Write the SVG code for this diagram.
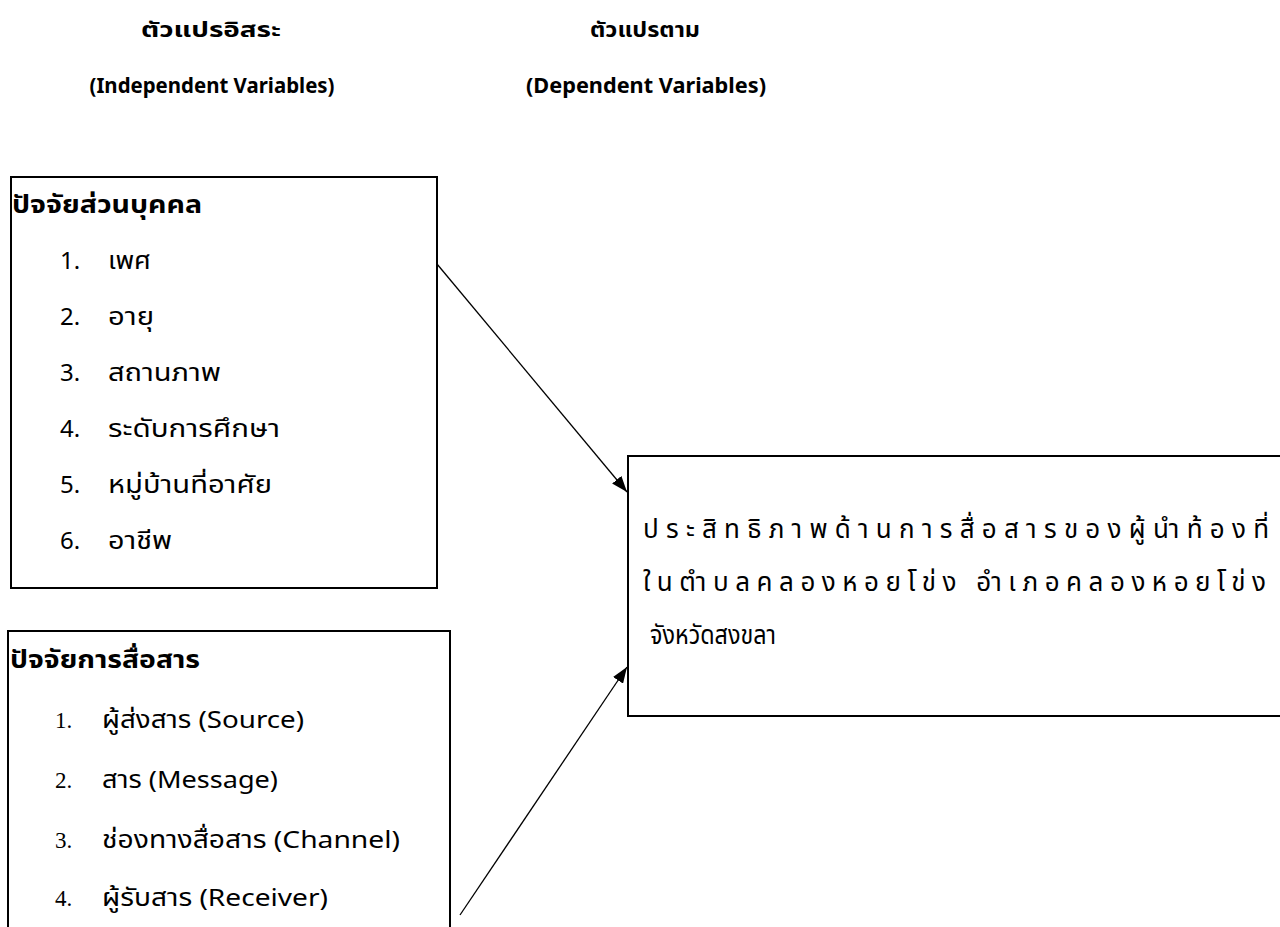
<svg xmlns="http://www.w3.org/2000/svg" width="1280" height="927" viewBox="0 0 1280 927">
<style>
text{font-family:"Noto Sans","Noto Sans Thai","DejaVu Sans",sans-serif;fill:#000}
.h{font-size:21px;font-weight:bold;text-anchor:middle}
.t{font-size:24px;font-weight:bold}
.i{font-size:24px}
.n{font-size:23px;font-family:"Liberation Serif",serif}
.d{font-size:26px}
.box{fill:#fff;stroke:#000;stroke-width:2}
.c{stroke:#000;stroke-width:1.3;fill:none}
</style>
<defs>
<marker id="ah" viewBox="0 0 16 12" refX="16" refY="6" markerWidth="16" markerHeight="12" markerUnits="userSpaceOnUse" orient="auto">
<path d="M0,0 L16,6 L0,12 z" fill="#000"/>
</marker>
</defs>
<rect width="1280" height="927" fill="#fff"/>
<g id="headers">
<text class="h" x="211" y="37" textLength="140" lengthAdjust="spacingAndGlyphs">ตัวแปรอิสระ</text>
<text class="h" x="212" y="93" textLength="245" lengthAdjust="spacingAndGlyphs">(Independent Variables)</text>
<text class="h" x="645" y="37" textLength="110" lengthAdjust="spacingAndGlyphs">ตัวแปรตาม</text>
<text class="h" x="646" y="93" textLength="240" lengthAdjust="spacingAndGlyphs">(Dependent Variables)</text>
</g>
<g id="personal">
<rect class="box" x="11" y="177" width="426" height="411"/>
<text class="t" x="12" y="213" textLength="190" lengthAdjust="spacingAndGlyphs">ปัจจัยส่วนบุคคล</text>
<text class="i" x="60" y="269">1.</text><text class="i" x="108" y="269" textLength="43" lengthAdjust="spacingAndGlyphs">เพศ</text>
<text class="i" x="60" y="325">2.</text><text class="i" x="108" y="325" textLength="46" lengthAdjust="spacingAndGlyphs">อายุ</text>
<text class="i" x="60" y="381">3.</text><text class="i" x="108" y="381" textLength="113" lengthAdjust="spacingAndGlyphs">สถานภาพ</text>
<text class="i" x="60" y="437">4.</text><text class="i" x="108" y="437" textLength="172" lengthAdjust="spacingAndGlyphs">ระดับการศึกษา</text>
<text class="i" x="60" y="493">5.</text><text class="i" x="108" y="493" textLength="164" lengthAdjust="spacingAndGlyphs">หมู่บ้านที่อาศัย</text>
<text class="i" x="60" y="549">6.</text><text class="i" x="108" y="549" textLength="64" lengthAdjust="spacingAndGlyphs">อาชีพ</text>
</g>
<g id="communication">
<rect class="box" x="8" y="631" width="442" height="320"/>
<text class="t" x="10" y="668" textLength="190" lengthAdjust="spacingAndGlyphs">ปัจจัยการสื่อสาร</text>
<text class="n" x="55" y="728">1.</text><text class="i" x="102" y="728" textLength="202" lengthAdjust="spacingAndGlyphs">ผู้ส่งสาร (Source)</text>
<text class="n" x="55" y="788">2.</text><text class="i" x="102" y="788" textLength="176" lengthAdjust="spacingAndGlyphs">สาร (Message)</text>
<text class="n" x="55" y="848">3.</text><text class="i" x="102" y="848" textLength="298" lengthAdjust="spacingAndGlyphs">ช่องทางสื่อสาร (Channel)</text>
<text class="n" x="55" y="906">4.</text><text class="i" x="102" y="906" textLength="226" lengthAdjust="spacingAndGlyphs">ผู้รับสาร (Receiver)</text>
</g>
<g id="effectiveness">
<rect class="box" x="628" y="456" width="670" height="260"/>
<text class="d" x="643" y="538" textLength="626" lengthAdjust="spacing">ประสิทธิภาพด้านการสื่อสารของผู้นำท้องที่</text>
<text class="d" x="643" y="591" textLength="623" lengthAdjust="spacing">ในตำบลคลองหอยโข่ง อำเภอคลองหอยโข่ง</text>
<text class="d" x="650" y="644" textLength="126" lengthAdjust="spacingAndGlyphs">จังหวัดสงขลา</text>
</g>
<g id="connectors">
<line class="c" x1="437" y1="264" x2="627" y2="492" marker-end="url(#ah)"/>
<line class="c" x1="460" y1="915" x2="627" y2="667" marker-end="url(#ah)"/>
</g>
</svg>
